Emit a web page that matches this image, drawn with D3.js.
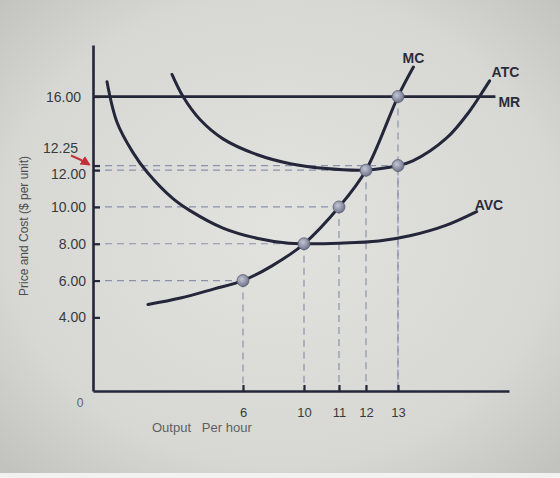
<!DOCTYPE html>
<html>
<head>
<meta charset="utf-8">
<script src="https://cdn.jsdelivr.net/npm/d3@7"></script>
<style>
body { margin: 0; background: #d8d9d4; }
svg { display: block; }
text { font-family: "Liberation Sans", Arial, sans-serif; }
</style>
</head>
<body>
<svg width="560" height="478"></svg>
<script>
// values: output per hour (qty) and $ per unit
var mcQty   = [2.2, 3.5, 4.85, 6, 7.9, 10, 11, 12, 13, 13.5];
var mcCost  = [4.7, 5.05, 5.55, 6, 6.8, 8, 10, 12, 16, 17.6];

var atcQty  = [3.16, 3.6, 4.28, 5.2, 6.9, 9.1, 10.55, 12, 13, 13.48, 14.58, 15.32, 15.74, 15.97];
var atcCost = [17.2, 16.0, 14.75, 13.7, 12.85, 12.35, 12.1, 12, 12.25, 12.5, 13.75, 15.2, 16.25, 16.85];

var avcQty  = [0.56, 0.96, 1.6, 2.16, 3.2, 3.88, 5.2, 6.9, 9.0, 10, 11, 12.4, 13.42, 14.55, 15.55];
var avcCost = [16.8, 14.6, 12.95, 11.9, 10.45, 9.8, 8.85, 8.3, 8.03, 8, 8.03, 8.15, 8.45, 9.0, 9.75];

var mrPrice = 16;
var mrQty   = [0, 16.16];

// marked points (MC at 6,10,11,12,13 and ATC at 13)
var dotQty   = [6, 10, 11, 12, 13, 13];
var dotPrice = [6, 8, 10, 12, 16, 12.25];

var xTicks = [6, 10, 11, 12, 13];
var yTicks = [4, 6, 8, 10, 12, 12.25, 16];

var svgW = 560, svgH = 478;
var svg = d3.select('svg');

// photographed paper look
var defs = svg.append('defs');
var bg = defs.append('radialGradient').attr('id', 'paper').attr('cx', '50%').attr('cy', '48%').attr('r', '70%');
bg.append('stop').attr('offset', '0%').attr('stop-color', '#e2e3de');
bg.append('stop').attr('offset', '70%').attr('stop-color', '#d7d8d3');
bg.append('stop').attr('offset', '100%').attr('stop-color', '#c2c3be');
var ball = defs.append('radialGradient').attr('id', 'ball').attr('cx', '40%').attr('cy', '38%').attr('r', '65%');
ball.append('stop').attr('offset', '0%').attr('stop-color', '#c3c6d4');
ball.append('stop').attr('offset', '100%').attr('stop-color', '#6d7188');
defs.append('marker').attr('id', 'arr').attr('viewBox', '0 0 10 10').attr('refX', 8).attr('refY', 5)
  .attr('markerWidth', 5).attr('markerHeight', 5).attr('orient', 'auto')
  .append('path').attr('d', 'M0,0L10,5L0,10z').attr('fill', '#c2303a');

svg.append('rect').attr('width', svgW).attr('height', svgH).attr('fill', 'url(#paper)');
svg.append('rect').attr('y', svgH - 5).attr('width', svgW).attr('height', 5).attr('fill', '#f2f2f0');

var x = d3.scaleLinear().domain([0, 6, 10, 11, 12, 13, 16.6]).range([93, 243, 304, 339, 366, 398, 509]);
var y = d3.scaleLinear().domain([0, 18.8]).range([391, 45]);

var ink = '#24263a';
var dash = '#8c91ad';

// dashed guides
var g = svg.append('g');
dotQty.forEach(function (q, i) {
  var p = dotPrice[i];
  g.append('line').attr('x1', x(0)).attr('x2', x(q)).attr('y1', y(p)).attr('y2', y(p))
    .attr('stroke', dash).attr('stroke-width', 1.2).attr('stroke-dasharray', '7,5');
  g.append('line').attr('x1', x(q)).attr('x2', x(q)).attr('y1', y(p)).attr('y2', y(0))
    .attr('stroke', dash).attr('stroke-width', 1.2).attr('stroke-dasharray', '7,5');
});

var line = d3.line().x(function (d) { return x(d[0]); }).y(function (d) { return y(d[1]); })
  .curve(d3.curveCatmullRom.alpha(0.5));

function curve(qs, cs) {
  var pts = qs.map(function (q, i) { return [q, cs[i]]; });
  svg.append('path').datum(pts).attr('d', line).attr('fill', 'none')
    .attr('stroke', ink).attr('stroke-width', 3).attr('stroke-linecap', 'round');
  return pts;
}
var mc = curve(mcQty, mcCost);
var atc = curve(atcQty, atcCost);
var avc = curve(avcQty, avcCost);

// MR line
svg.append('line').attr('x1', x(mrQty[0])).attr('x2', x(mrQty[1]))
  .attr('y1', y(mrPrice)).attr('y2', y(mrPrice))
  .attr('stroke', ink).attr('stroke-width', 2.8);

// axes
var yAxis = svg.append('g').attr('transform', 'translate(' + x(0) + ',0)')
  .call(d3.axisLeft(y).tickValues(yTicks).tickFormat(d3.format('.2f'))
    .tickSizeInner(-7).tickSizeOuter(0).tickPadding(7));
var xAxis = svg.append('g').attr('transform', 'translate(0,' + y(0) + ')')
  .call(d3.axisBottom(x).tickValues(xTicks).tickFormat(d3.format('d'))
    .tickSizeInner(-6).tickSizeOuter(0).tickPadding(17));

[yAxis, xAxis].forEach(function (a) {
  a.attr('font-family', null);
  a.select('.domain').attr('stroke', ink).attr('stroke-width', 2.6);
  a.selectAll('.tick line').attr('stroke', ink).attr('stroke-width', 2.2);
  a.selectAll('.tick text').attr('fill', '#383a40');
});
yAxis.attr('font-size', 14);
xAxis.attr('font-size', 13);
yAxis.selectAll('.tick text').filter(function (d) { return d === 12; }).attr('dy', '0.62em');
yAxis.selectAll('.tick text').filter(function (d) { return d === 12.25; })
  .attr('dy', '-0.9em').attr('x', -15);
yAxis.selectAll('.tick text').filter(function (d) { return d === 16; }).attr('x', -12);

// red arrow pointing at 12.25
svg.append('path')
  .attr('d', 'M' + (x(0) - 22) + ',' + (y(12.25) - 10) + 'Q' + (x(0) - 12) + ',' + (y(12.25) - 6) + ' ' + (x(0) - 4) + ',' + (y(12.25) - 1))
  .attr('fill', 'none').attr('stroke', '#c2303a').attr('stroke-width', 2).attr('marker-end', 'url(#arr)');

// points
svg.selectAll('circle.pt').data(dotQty).enter().append('circle').attr('class', 'pt')
  .attr('cx', function (d) { return x(d); })
  .attr('cy', function (d, i) { return y(dotPrice[i]); })
  .attr('r', 6).attr('fill', 'url(#ball)').attr('stroke', '#5a5e72').attr('stroke-width', 0.8);

// curve labels
function label(t, px, py, anchor) {
  svg.append('text').attr('x', px).attr('y', py).attr('text-anchor', anchor || 'start')
    .attr('font-size', 14).attr('font-weight', 'bold').attr('fill', '#2a2c3c').text(t);
}
var mcEnd = mc[mc.length - 1], atcEnd = atc[atc.length - 1], avcEnd = avc[avc.length - 1];
label('MC', x(mcEnd[0]), y(mcEnd[1]) - 4, 'middle');
label('ATC', x(atcEnd[0]) + 2, y(atcEnd[1]) - 4);
label('MR', x(mrQty[1]) + 3, y(mrPrice) + 10);
label('AVC', x(avcEnd[0]) - 2, y(avcEnd[1]) - 2);

// axis titles
svg.append('text').attr('transform', 'translate(28,226) rotate(-90)').attr('text-anchor', 'middle')
  .attr('font-size', 12).attr('fill', '#4a4c52').text('Price and Cost ($ per unit)');
svg.append('text').attr('x', 152).attr('y', 432).attr('font-size', 13).attr('fill', '#5e6066')
  .style('white-space', 'pre').text('Output   Per hour');
svg.append('text').attr('x', 80).attr('y', 407).attr('text-anchor', 'middle')
  .attr('font-size', 12).attr('fill', '#5e6066').text('0');
</script>
</body>
</html>
